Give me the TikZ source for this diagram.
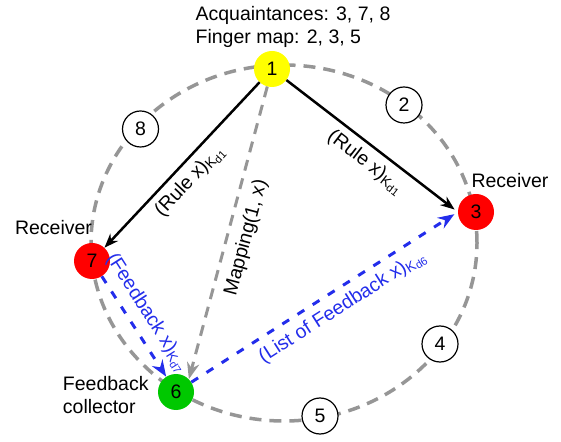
\documentclass[tikz,border=0pt]{standalone}
\usepackage{fontspec}
\setmainfont{Liberation Sans}
\usetikzlibrary{arrows.meta, positioning}

\definecolor{ringgray}{RGB}{150,150,150}
\definecolor{fbblue}{RGB}{35,45,235}
\definecolor{peeryellow}{RGB}{255,255,0}
\definecolor{peerred}{RGB}{255,0,0}
\definecolor{peergreen}{RGB}{0,200,0}

% key subscript, K with a smaller index
\newcommand\keysub[1]{\raisebox{-2.5pt}{\fontsize{14}{14}\selectfont
  K\raisebox{-2pt}{\fontsize{11}{11}\selectfont #1}}}

\begin{document}
\begin{tikzpicture}[
    x=1pt, y=1pt, >=Stealth, node distance=2pt,
    font=\fontsize{19.5}{23}\selectfont,
    peer/.style={circle, minimum size=36pt, inner sep=0pt},
    hop/.style={peer, draw, line width=1.2pt, fill=white},
    ring/.style={draw=ringgray, line width=3.5pt, dash pattern=on 12pt off 8pt},
    fb/.style={->, draw=fbblue, line width=3pt, dash pattern=on 8pt off 10pt}
  ]
  \useasboundingbox (0,0) rectangle (561,441);

  % the ring
  \coordinate (c) at (284,198);
  \draw[ring] (c) ellipse [x radius=193pt, y radius=178pt];

  % peers on the ring
  \node[peer, fill=peeryellow] (n1) at (272,372) {1};
  \node[hop] (n2) at (404,336) {2};
  \node[peer, fill=peerred] (n3) at (476,229) {3};
  \node[hop] (n4) at (440,97) {4};
  \node[hop] (n5) at (320,25) {5};
  \node[peer, fill=peergreen] (n6) at (176,49) {6};
  \node[peer, fill=peerred] (n7) at (92,180) {7};
  \node[hop] (n8) at (140.5,312) {8};

  % texts beside the peers
  \node[above=0pt of n1, xshift=21pt, align=left] (info)
    {Acquaintances: 3, 7, 8\\Finger map: 2, 3, 5};
  \node[above=2.7pt of n3, xshift=34pt] (recv3) {Receiver};
  \node[above=4.7pt of n7, xshift=-38.5pt] (recv7) {Receiver};
  \node[left=5.7pt of n6, yshift=-3.5pt, align=left] (coll)
    {Feedback\\collector};

  % rules sent out by 1
  \draw[->, line width=2.5pt] (n1) --
    node[sloped, below=3pt, pos=0.53] (rule7)
    {(Rule x)\keysub{d1}} (n7);
  \draw[->, line width=2.5pt, shorten >=4pt] (n1) --
    node[sloped, below=3pt, pos=0.52] (rule3)
    {(Rule x)\keysub{d1}} (n3.west);

  % mapping
  \draw[->, draw=ringgray, line width=3pt, dash pattern=on 11pt off 8pt]
    (n1) -- node[sloped, below=5pt, pos=0.5] (map) {Mapping(1, x)}
    (n6.north east);

  % feedback
  \draw[fb] (n7) --
    node[sloped, above=4pt, pos=0.46, text=fbblue] (fb7)
    {(Feedback x)\keysub{d7}} (n6);
  \draw[fb, shorten >=4pt] (n6) --
    node[sloped, below=4pt, pos=0.53, text=fbblue] (fb6)
    {(List of Feedback x)\keysub{d6}} (n3.west);
\end{tikzpicture}
\end{document}
